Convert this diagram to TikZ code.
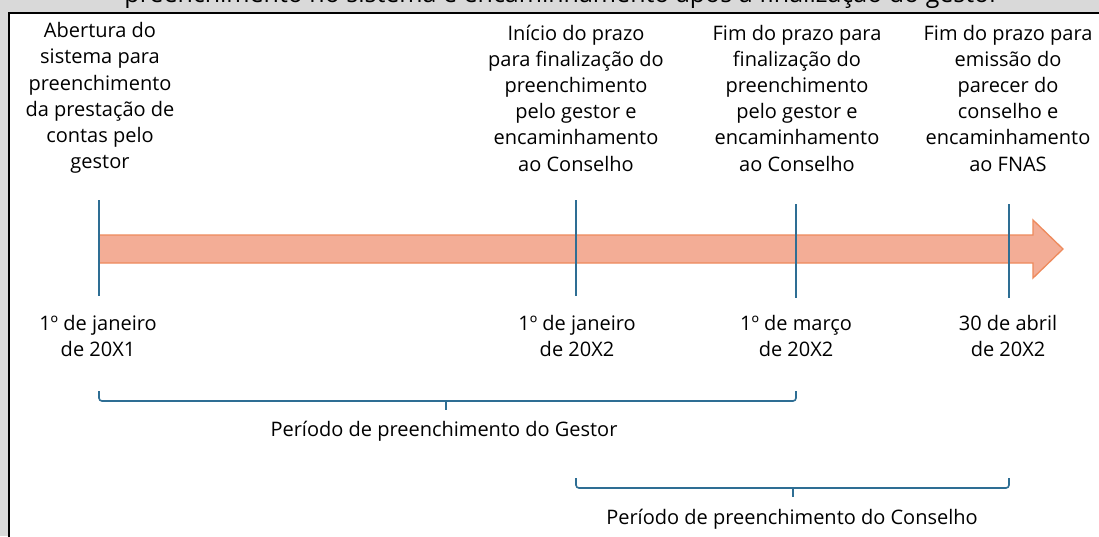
\documentclass[tikz,border=0pt]{standalone}
\usepackage{fontspec}
\setmainfont{Open Sans}
\usepackage{tikz}
\usetikzlibrary{positioning}

\definecolor{fundo}{HTML}{D9D9D9}
\definecolor{marco}{HTML}{2E6E94}
\definecolor{setafill}{HTML}{F3AD96}
\definecolor{setadraw}{HTML}{EE8A5C}

\tikzset{
  rotulo/.style={align=center, inner sep=0pt, font=\fontsize{20}{26.2}\selectfont},
  marcador/.style={draw=marco, line width=2pt},
  chave/.style={draw=marco, line width=1.6pt, rounded corners=3pt}
}

\begin{document}
\begin{tikzpicture}[x=1pt,y=-1pt]
\useasboundingbox (0,0) rectangle (1099,536);
\fill[fundo] (0,0) rectangle (1099,536); %fundo
\begin{scope}
\clip (0,0) rectangle (1099,11.5);
\node[inner sep=0pt, anchor=base, font=\fontsize{25}{29}\selectfont] (titulo) at (562,2.5) {preenchimento no sistema e encaminhamento após a finalização do gestor}; %titulo cortado
\end{scope}
\filldraw[fill=white, draw=black, line width=2pt] (9,12.5) rectangle (1110,550); %quadro

\filldraw[fill=setafill, draw=setadraw, line width=1.3pt] (99,235) -- (1033,235) -- (1033,220) -- (1063,249) -- (1033,278) -- (1033,263) -- (99,263) -- cycle; %seta do tempo

\coordinate (m1a) at (99,200);  \coordinate (m1b) at (99,296);
\coordinate (m2a) at (576,200); \coordinate (m2b) at (576,296);
\coordinate (m3a) at (796,204); \coordinate (m3b) at (796,298);
\coordinate (m4a) at (1009,204); \coordinate (m4b) at (1009,298);
\draw[marcador] (m1a) -- (m1b); %abertura
\draw[marcador] (m2a) -- (m2b); %inicio do prazo
\draw[marcador] (m3a) -- (m3b); %fim do prazo gestor
\draw[marcador] (m4a) -- (m4b); %fim do prazo conselho

\node[rotulo] (abertura) at (100,98) {Abertura do\\sistema para\\preenchimento\\da prestação de\\contas pelo\\gestor};
\node[rotulo] (inicio) at (576,98) {Início do prazo\\para finalização do\\preenchimento\\pelo gestor e\\encaminhamento\\ao Conselho};
\node[rotulo] (fimgestor) at (797,98) {Fim do prazo para\\finalização do\\preenchimento\\pelo gestor e\\encaminhamento\\ao Conselho};
\node[rotulo] (fimconselho) at (1008,98) {Fim do prazo para\\emissão do\\parecer do\\conselho e\\encaminhamento\\ao FNAS};

\node[rotulo] (data1) at (98,336) {1º de janeiro\\de 20X1};
\node[rotulo] (data2) at (577,336) {1º de janeiro\\de 20X2};
\node[rotulo] (data3) at (796,336) {1º de março\\de 20X2};
\node[rotulo] (data4) at (1008,336) {30 de abril\\de 20X2};

\draw[chave] (99,391) |- (796,401) -- (796,391); %chave gestor
\draw[chave] (446,401) -- (446,410);
\node[rotulo] (periodogestor) at (444,431) {Período de preenchimento do Gestor};

\draw[chave] (576,478) |- (1009,488) -- (1009,478); %chave conselho
\draw[chave] (793,488) -- (793,497);
\node[rotulo] (periodoconselho) at (792,519) {Período de preenchimento do Conselho};
\end{tikzpicture}
\end{document}
